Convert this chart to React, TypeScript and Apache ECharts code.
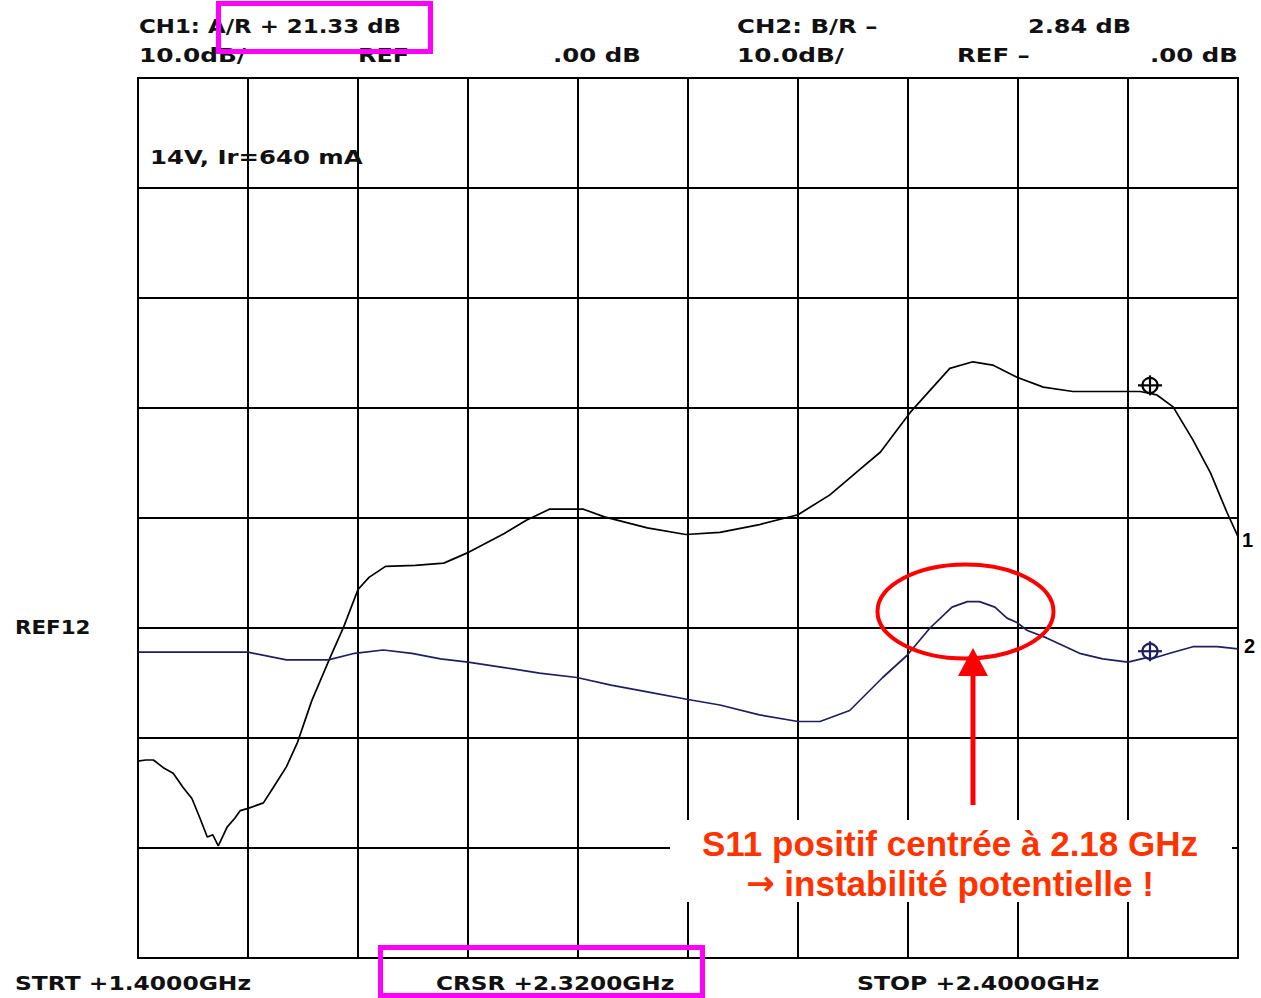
import React, { useEffect, useRef } from "react";
import * as echarts from "echarts";

// Channel 1 (A/R) trace: frequency in MHz, level in dB
const FREQ_CH1 = [1400,1407,1414,1423,1432,1441,1449,1456,1463,1468,1473,1481,1488,1493,1500,1514,1523,1535,1545,1558,1575,1587,1600,1610,1625,1652,1678,1701,1733,1753,1774,1805,1824,1863,1898,1929,1965,2000,2029,2056,2075,2090,2102,2120,2138,2159,2177,2199,2223,2250,2311,2320,2326,2341,2359,2375,2390,2400];
const DB_CH1 = [-12.1,-12.0,-12.0,-12.7,-13.2,-14.5,-15.5,-17.2,-19.0,-18.8,-19.8,-18.1,-17.3,-16.6,-16.4,-15.9,-14.5,-12.6,-10.4,-6.6,-2.6,0.1,3.5,4.6,5.6,5.7,5.9,6.9,8.6,9.8,10.8,10.8,10.1,9.1,8.5,8.7,9.4,10.3,12.1,14.4,16.0,18.0,19.6,21.6,23.6,24.2,23.9,22.8,21.9,21.5,21.5,21.33,21.2,20.1,17.1,14.1,10.5,8.3];

// Channel 2 (B/R) trace
const FREQ_CH2 = [1400,1500,1535,1573,1597,1623,1649,1675,1700,1733,1765,1799,1830,1863,1900,1929,1965,2000,2020,2047,2077,2099,2120,2140,2154,2165,2179,2190,2199,2208,2226,2256,2277,2300,2317,2320,2338,2359,2381,2400];
const DB_CH2 = [-2.2,-2.2,-2.9,-2.9,-2.3,-2.0,-2.3,-2.8,-3.1,-3.6,-4.1,-4.5,-5.2,-5.8,-6.5,-7.0,-7.9,-8.5,-8.5,-7.5,-4.5,-2.5,0.0,1.9,2.4,2.4,1.9,0.9,0.5,-0.2,-0.9,-2.3,-2.8,-3.1,-2.7,-2.84,-2.3,-1.7,-1.7,-1.9];

// Cursor markers
const CURSOR_MHZ = 2320;
const MARKER_DB = [21.33, -2.84];

// Axis settings
const X_MIN = 1400, X_MAX = 2400, X_STEP = 100;
const Y_MIN = -30, Y_MAX = 50, Y_STEP = 10;

// Texts
const HEADER_TEXTS = [
  { t: "CH1: A/R + 21.33 dB", x: 139, y: 26, s: 1.145 },
  { t: "10.0dB/", x: 139, y: 55, s: 1.24 },
  { t: "REF", x: 358, y: 55, s: 1.2 },
  { t: ".00 dB", x: 553, y: 55, s: 1.22 },
  { t: "CH2: B/R \u2013", x: 737, y: 26, s: 1.22 },
  { t: "2.84 dB", x: 1028, y: 26, s: 1.2 },
  { t: "10.0dB/", x: 737, y: 55, s: 1.24 },
  { t: "REF \u2013", x: 957, y: 55, s: 1.22 },
  { t: ".00 dB", x: 1150, y: 55, s: 1.22 },
  { t: "14V, Ir=640 mA", x: 150, y: 157, s: 1.22 },
  { t: "REF12", x: 15, y: 627, s: 1.07 },
  { t: "STRT +1.4000GHz", x: 15, y: 983, s: 1.17 },
  { t: "CRSR +2.3200GHz", x: 436, y: 983, s: 1.16 },
  { t: "STOP +2.4000GHz", x: 857, y: 983, s: 1.18 },
];
const NOTE_LINE1 = "S11 positif centrée à 2.18 GHz";
const NOTE_ARROW = "\u2192";
const NOTE_LINE2 = " instabilité potentielle !";

const FONT = "'DejaVu Sans', sans-serif";
const NOTE_FONT = "'Liberation Sans', Arial, sans-serif";

export default function App() {
  const ref = useRef<HTMLDivElement>(null);
  useEffect(() => {
    if (!ref.current) return;
    const chart = echarts.init(ref.current, undefined, { renderer: "svg" });
    const ch1 = FREQ_CH1.map((f, i) => [f, DB_CH1[i]]);
    const ch2 = FREQ_CH2.map((f, i) => [f, DB_CH2[i]]);
    const markerColors = ["#000000", "#1e1e60"];
    const markers = MARKER_DB.map((d, i) => [CURSOR_MHZ, d, i]);

    const textEls: any[] = HEADER_TEXTS.map((h) => ({
      type: "text",
      x: h.x,
      y: h.y,
      scaleX: h.s,
      z: 50,
      style: {
        text: h.t,
        fill: "#111",
        font: `bold 20px ${FONT}`,
        textVerticalAlign: "middle",
      },
    }));

    chart.setOption({
      animation: false,
      backgroundColor: "#ffffff",
      grid: {
        left: 138,
        top: 78,
        width: 1100,
        height: 880,
        show: true,
        borderColor: "#000",
        borderWidth: 2,
        containLabel: false,
      },
      xAxis: {
        type: "value",
        min: X_MIN,
        max: X_MAX,
        interval: X_STEP,
        axisLabel: { show: false },
        axisTick: { show: false },
        axisLine: { show: false },
        splitLine: { show: true, lineStyle: { color: "#000", width: 2 } },
      },
      yAxis: {
        type: "value",
        min: Y_MIN,
        max: Y_MAX,
        interval: Y_STEP,
        axisLabel: { show: false },
        axisTick: { show: false },
        axisLine: { show: false },
        splitLine: { show: true, lineStyle: { color: "#000", width: 2 } },
      },
      series: [
        {
          type: "line",
          data: ch1,
          symbol: "none",
          lineStyle: { color: "#000", width: 1.7 },
          z: 5,
          endLabel: {
            show: true,
            formatter: "1",
            color: "#000",
            fontFamily: "'Liberation Sans', Arial, sans-serif",
            fontWeight: "bold",
            fontSize: 20,
            distance: 4,
            offset: [0, 3],
          },
        },
        {
          type: "line",
          data: ch2,
          symbol: "none",
          lineStyle: { color: "#1e1e60", width: 1.7 },
          z: 5,
          endLabel: {
            show: true,
            formatter: "2",
            color: "#000",
            fontFamily: "'Liberation Sans', Arial, sans-serif",
            fontWeight: "bold",
            fontSize: 20,
            distance: 6,
            offset: [0, -3],
          },
        },
        {
          type: "custom",
          data: markers,
          z: 6,
          renderItem: (_params: any, api: any) => {
            const p = api.coord([api.value(0), api.value(1)]);
            const c = markerColors[api.value(2)];
            const st = { stroke: c, lineWidth: 2.2, fill: "none" };
            return {
              type: "group",
              x: p[0],
              y: p[1] - 8,
              children: [
                { type: "circle", shape: { cx: 0, cy: 0, r: 7.5 }, style: st },
                { type: "line", shape: { x1: -12, y1: 0, x2: 12, y2: 0 }, style: st },
                { type: "line", shape: { x1: 0, y1: -10, x2: 0, y2: 10 }, style: st },
              ],
            };
          },
        },
      ],
      graphic: [
        ...textEls,
        // highlight boxes
        {
          type: "rect",
          z: 60,
          shape: { x: 218.5, y: 3.5, width: 212, height: 48 },
          style: { fill: "none", stroke: "#ff00ff", lineWidth: 5 },
        },
        {
          type: "rect",
          z: 60,
          shape: { x: 380.5, y: 947.5, width: 322, height: 48 },
          style: { fill: "none", stroke: "#ff00ff", lineWidth: 5 },
        },
        // ellipse around peak
        {
          type: "ellipse",
          z: 60,
          shape: { cx: 965.5, cy: 611.5, rx: 88, ry: 47 },
          style: { fill: "none", stroke: "#ff0000", lineWidth: 4 },
        },
        // arrow
        {
          type: "line",
          z: 60,
          shape: { x1: 973, y1: 805, x2: 973, y2: 672 },
          style: { stroke: "#ff0000", lineWidth: 5 },
        },
        {
          type: "polygon",
          z: 60,
          shape: { points: [[958, 676], [988, 676], [973, 648]] },
          style: { fill: "#ff0000" },
        },
        // annotation box
        {
          type: "rect",
          z: 55,
          shape: { x: 670, y: 820, width: 562, height: 82 },
          style: { fill: "#ffffff" },
        },
        {
          type: "text",
          z: 61,
          x: 950,
          y: 843,
          style: {
            text: NOTE_LINE1,
            fill: "#ff3300",
            font: `bold 35px ${NOTE_FONT}`,
            textAlign: "center",
            textVerticalAlign: "middle",
          },
        },
        {
          type: "text",
          z: 61,
          x: 950,
          y: 883,
          style: {
            text: `{a|${NOTE_ARROW}}{b|${NOTE_LINE2}}`,
            textAlign: "center",
            textVerticalAlign: "middle",
            rich: {
              a: {
                fill: "#ff3300",
                font: `bold 34px 'DejaVu Sans', sans-serif`,
              },
              b: {
                fill: "#ff3300",
                font: `bold 35px ${NOTE_FONT}`,
              },
            },
          },
        },
      ],
    });
    return () => chart.dispose();
  }, []);
  return (
    <div
      ref={ref}
      style={{ position: "fixed", left: 0, top: 0, width: 1261, height: 998, background: "#fff" }}
    />
  );
}
